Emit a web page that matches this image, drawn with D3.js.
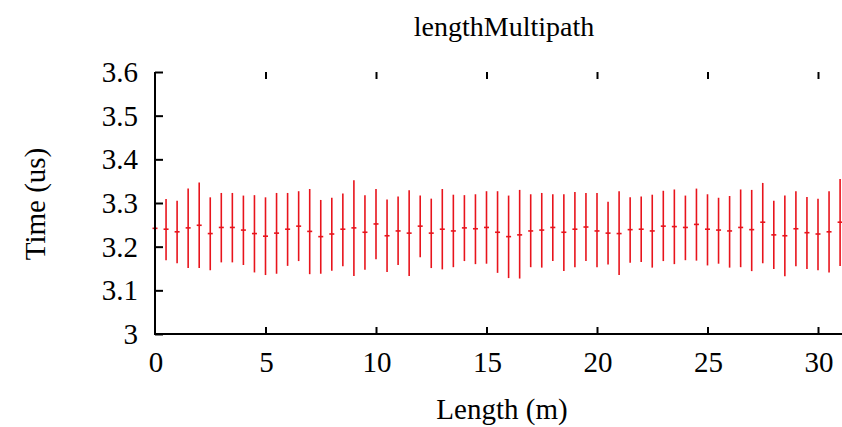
<!DOCTYPE html>
<html>
<head>
<meta charset="UTF-8">
<style>
body {
	margin: 0 ;
	background-color: #ffffff ;
}
</style>
<script src="https://cdn.jsdelivr.net/npm/d3@7/dist/d3.min.js"></script>
</head>
<body>
<div id="chart"></div>
<script type="text/javascript">

	// lengths in metres, every 0.5 m
	const lengths = [ 0, 0.5, 1, 1.5, 2, 2.5, 3, 3.5, 4, 4.5, 5, 5.5, 6, 6.5, 7, 7.5, 8, 8.5, 9, 9.5,
		10, 10.5, 11, 11.5, 12, 12.5, 13, 13.5, 14, 14.5, 15, 15.5, 16, 16.5, 17, 17.5, 18, 18.5, 19, 19.5,
		20, 20.5, 21, 21.5, 22, 22.5, 23, 23.5, 24, 24.5, 25, 25.5, 26, 26.5, 27, 27.5, 28, 28.5, 29, 29.5,
		30, 30.5, 31 ] ;

	// mean time (us)
	const meanTime = [ 3.242, 3.240, 3.234, 3.243, 3.249, 3.230, 3.244, 3.244, 3.238, 3.230,
		3.224, 3.231, 3.240, 3.247, 3.235, 3.223, 3.229, 3.240, 3.243, 3.233,
		3.252, 3.225, 3.236, 3.231, 3.247, 3.231, 3.240, 3.236, 3.243, 3.241,
		3.244, 3.233, 3.223, 3.227, 3.236, 3.238, 3.244, 3.233, 3.240, 3.245,
		3.236, 3.231, 3.230, 3.239, 3.240, 3.236, 3.247, 3.246, 3.244, 3.251,
		3.240, 3.238, 3.236, 3.244, 3.239, 3.256, 3.227, 3.225, 3.241, 3.232,
		3.229, 3.234, 3.256 ] ;

	// lower end of error bar
	const lowTime = [ 3.170, 3.169, 3.162, 3.151, 3.151, 3.146, 3.164, 3.164, 3.158, 3.141,
		3.135, 3.138, 3.156, 3.167, 3.137, 3.138, 3.145, 3.155, 3.133, 3.147,
		3.171, 3.142, 3.158, 3.133, 3.176, 3.151, 3.148, 3.153, 3.167, 3.160,
		3.161, 3.140, 3.128, 3.127, 3.153, 3.152, 3.167, 3.144, 3.153, 3.167,
		3.153, 3.159, 3.135, 3.163, 3.165, 3.152, 3.167, 3.160, 3.169, 3.168,
		3.157, 3.161, 3.152, 3.153, 3.144, 3.162, 3.149, 3.132, 3.155, 3.149,
		3.146, 3.141, 3.156 ] ;

	// upper end of error bar
	const highTime = [ 3.310, 3.309, 3.305, 3.333, 3.347, 3.313, 3.323, 3.323, 3.317, 3.318,
		3.313, 3.323, 3.323, 3.327, 3.332, 3.307, 3.312, 3.322, 3.352, 3.318,
		3.332, 3.308, 3.315, 3.329, 3.317, 3.310, 3.332, 3.319, 3.318, 3.320,
		3.327, 3.327, 3.317, 3.330, 3.320, 3.323, 3.320, 3.320, 3.325, 3.323,
		3.323, 3.303, 3.327, 3.313, 3.315, 3.319, 3.328, 3.331, 3.317, 3.333,
		3.320, 3.312, 3.316, 3.331, 3.330, 3.346, 3.305, 3.317, 3.327, 3.314,
		3.310, 3.327, 3.355 ] ;

	const xTicks = [ 0, 5, 10, 15, 20, 25, 30 ] ;
	const yTicks = [ 3, 3.1, 3.2, 3.3, 3.4, 3.5, 3.6 ] ;

	const width = 842 ;
	const height = 427 ;
	const barColor = "#e8141c" ;
	const fontFamily = "'Liberation Serif', 'Times New Roman', Times, 'DejaVu Serif', serif" ;

	const svg = d3.select( "#chart" ).append( "svg" )
		.attr( "width", width )
		.attr( "height", height )
		.style( "display", "block" ) ;

	// plot continues past the right edge of the picture
	const x = d3.scaleLinear().domain( [ 0, 35 ] ).range( [ 155, 155 + 35 * 22.1 ] ) ;
	const y = d3.scaleLinear().domain( [ 3, 3.6 ] ).range( [ 334, 72 ] ) ;

	const data = lengths.map( function( l, i ) {
		return { x: l, mean: meanTime[i], low: lowTime[i], high: highTime[i] } ;
	}) ;

	// error bars
	const bars = svg.append( "g" ).attr( "class", "bars" ) ;
	bars.selectAll( "line.bar" )
		.data( data )
		.enter()
			.append( "line" )
				.attr( "class", "bar" )
				.attr( "x1", function(d) { return x( d.x ) } )
				.attr( "x2", function(d) { return x( d.x ) } )
				.attr( "y1", function(d) { return y( d.low ) } )
				.attr( "y2", function(d) { return y( d.high ) } )
				.attr( "stroke", barColor )
				.attr( "stroke-width", 1.6 ) ;

	bars.selectAll( "line.mean" )
		.data( data )
		.enter()
			.append( "line" )
				.attr( "class", "mean" )
				.attr( "x1", function(d) { return x( d.x ) - 2.5 } )
				.attr( "x2", function(d) { return x( d.x ) + 2.5 } )
				.attr( "y1", function(d) { return y( d.mean ) } )
				.attr( "y2", function(d) { return y( d.mean ) } )
				.attr( "stroke", barColor )
				.attr( "stroke-width", 1.6 ) ;

	// axes: left + bottom, ticks inward, mirrored ticks along the top
	const yAxis = svg.append( "g" )
		.attr( "transform", "translate(" + x(0) + ",0)" )
		.call( d3.axisRight( y ).tickValues( yTicks ).tickSize( 8 ).tickFormat( "" ) ) ;
	yAxis.select( ".domain" ).remove() ;

	const xAxis = svg.append( "g" )
		.attr( "transform", "translate(0," + y(3) + ")" )
		.call( d3.axisTop( x ).tickValues( xTicks.slice(1) ).tickSize( 7 ).tickFormat( "" ) ) ;
	xAxis.select( ".domain" ).remove() ;

	const topTicks = svg.append( "g" )
		.attr( "transform", "translate(0," + y(3.6) + ")" )
		.call( d3.axisBottom( x ).tickValues( xTicks.slice(1) ).tickSize( 7 ).tickFormat( "" ) ) ;
	topTicks.select( ".domain" ).remove() ;

	svg.selectAll( ".tick line" ).attr( "stroke", "#000" ).attr( "stroke-width", 2 ) ;

	svg.append( "path" )
		.attr( "d", "M" + x(0) + "," + y(3.6) + "V" + y(3) + "H" + width )
		.attr( "fill", "none" )
		.attr( "stroke", "#000" )
		.attr( "stroke-width", 2 ) ;

	// tick labels
	svg.append( "g" ).selectAll( "text" )
		.data( yTicks )
		.enter()
			.append( "text" )
				.attr( "x", 138 )
				.attr( "y", function(d) { return y( d ) } )
				.attr( "dy", "0.34em" )
				.attr( "text-anchor", "end" )
				.attr( "font-family", fontFamily )
				.attr( "font-size", 29 )
				.text( function(d) { return d3.format( "" )( d ) } ) ;

	svg.append( "g" ).selectAll( "text" )
		.data( xTicks )
		.enter()
			.append( "text" )
				.attr( "x", function(d) { return x( d ) + 1 } )
				.attr( "y", 372 )
				.attr( "text-anchor", "middle" )
				.attr( "font-family", fontFamily )
				.attr( "font-size", 29 )
				.text( function(d) { return d } ) ;

	// titles
	svg.append( "text" )
		.attr( "x", 504 )
		.attr( "y", 36 )
		.attr( "text-anchor", "middle" )
		.attr( "font-family", fontFamily )
		.attr( "font-size", 28 )
		.text( "lengthMultipath" ) ;

	svg.append( "text" )
		.attr( "x", 502 )
		.attr( "y", 419 )
		.attr( "text-anchor", "middle" )
		.attr( "font-family", fontFamily )
		.attr( "font-size", 29 )
		.text( "Length (m)" ) ;

	svg.append( "text" )
		.attr( "transform", "translate(45,204) rotate(-90)" )
		.attr( "text-anchor", "middle" )
		.attr( "font-family", fontFamily )
		.attr( "font-size", 29 )
		.text( "Time (us)" ) ;

</script>
</body>
</html>
